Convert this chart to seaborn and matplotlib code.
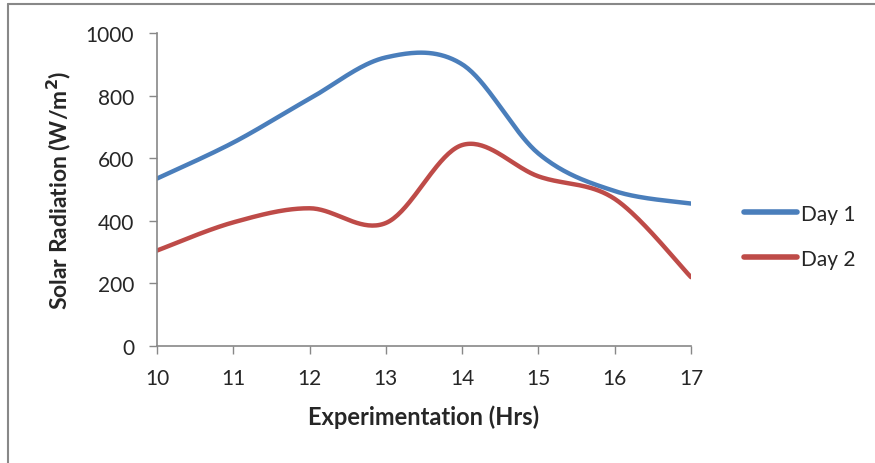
import numpy as np
import pandas as pd
import matplotlib
matplotlib.use("Agg")
import matplotlib.pyplot as plt
import seaborn as sns
from matplotlib.lines import Line2D

hours = [10, 11, 12, 13, 14, 15, 16, 17]
day1 = [535, 650, 790, 922, 900, 615, 495, 455]
day2 = [305, 395, 440, 393, 642, 542, 470, 220]
series_names = ["Day 1", "Day 2"]
y_ticks = [0, 200, 400, 600, 800, 1000]


def smooth(xs, ys, n=40):
    # Excel-style smoothed line (Catmull-Rom Bezier) as a rendering style
    xs = np.asarray(xs, float)
    ys = np.asarray(ys, float)
    px = np.concatenate([[xs[0]], xs, [xs[-1]]])
    py = np.concatenate([[ys[0]], ys, [ys[-1]]])
    ox, oy = [], []
    t = np.linspace(0, 1, n)
    for i in range(1, len(px) - 2):
        p0 = np.array([px[i], py[i]])
        p3 = np.array([px[i + 1], py[i + 1]])
        c1 = p0 + (np.array([px[i + 1], py[i + 1]]) - np.array([px[i - 1], py[i - 1]])) / 6
        c2 = p3 - (np.array([px[i + 2], py[i + 2]]) - np.array([px[i], py[i]])) / 6
        b = ((1 - t) ** 3)[:, None] * p0 + (3 * (1 - t) ** 2 * t)[:, None] * c1 \
            + (3 * (1 - t) * t ** 2)[:, None] * c2 + (t ** 3)[:, None] * p3
        ox.extend(b[:, 0]); oy.extend(b[:, 1])
    return ox, oy


sns.set_theme(style="white")
plt.rcParams["font.family"] = ["Lato", "DejaVu Sans"]

fig = plt.figure(figsize=(8.75, 4.64), dpi=100)
ax = fig.add_axes([157 / 875, 1 - 347 / 464, (691 - 157) / 875, (347 - 34) / 464])

rows = []
for name, vals in zip(series_names, [day1, day2]):
    sx, sy = smooth(hours, vals)
    for a, b in zip(sx, sy):
        rows.append({"x": a, "y": b, "series": name})
df = pd.DataFrame(rows)

sns.lineplot(data=df, x="x", y="y", hue="series", sort=False, estimator=None,
             palette=["#4A7EBB", "#BE4B48"], linewidth=3.2, ax=ax, legend=True,
             solid_capstyle="round")

ax.set_xlim(10, 17)
ax.set_ylim(0, 1000)
ax.set_xticks(hours)
ax.set_yticks(y_ticks)
ax.tick_params(axis="both", labelsize=15, length=5.5, width=1, color="#888888",
               direction="out")
ax.tick_params(axis="x", pad=10)
ax.tick_params(axis="y", pad=11)
ax.tick_params(left=True, bottom=True)
for s in ["top", "right"]:
    ax.spines[s].set_visible(False)
for s in ["left", "bottom"]:
    ax.spines[s].set_color("#888888")
    ax.spines[s].set_linewidth(1.2)

ax.set_xlabel("Experimentation (Hrs)", fontsize=17, fontweight="bold", labelpad=12)
ax.set_ylabel("Solar Radiation (W/m$^\\mathbf{2}$)", fontsize=16.5, fontweight="bold", labelpad=9)

leg = ax.legend(loc="center left", bbox_to_anchor=(1.064, 0.351), frameon=False,
                fontsize=15, handlelength=2.55, handletextpad=0.2, labelspacing=1.2)
for line in leg.get_lines():
    line.set_linewidth(4)
    line.set_solid_capstyle("round")

fig.add_artist(Line2D([8 / 875, 1], [1 - 5 / 464, 1 - 5 / 464], transform=fig.transFigure,
                      color="#888888", linewidth=1.5))
fig.add_artist(Line2D([8 / 875, 8 / 875], [0, 1 - 5 / 464], transform=fig.transFigure,
                      color="#888888", linewidth=1.5))

fig.savefig("out.png", dpi=100)
